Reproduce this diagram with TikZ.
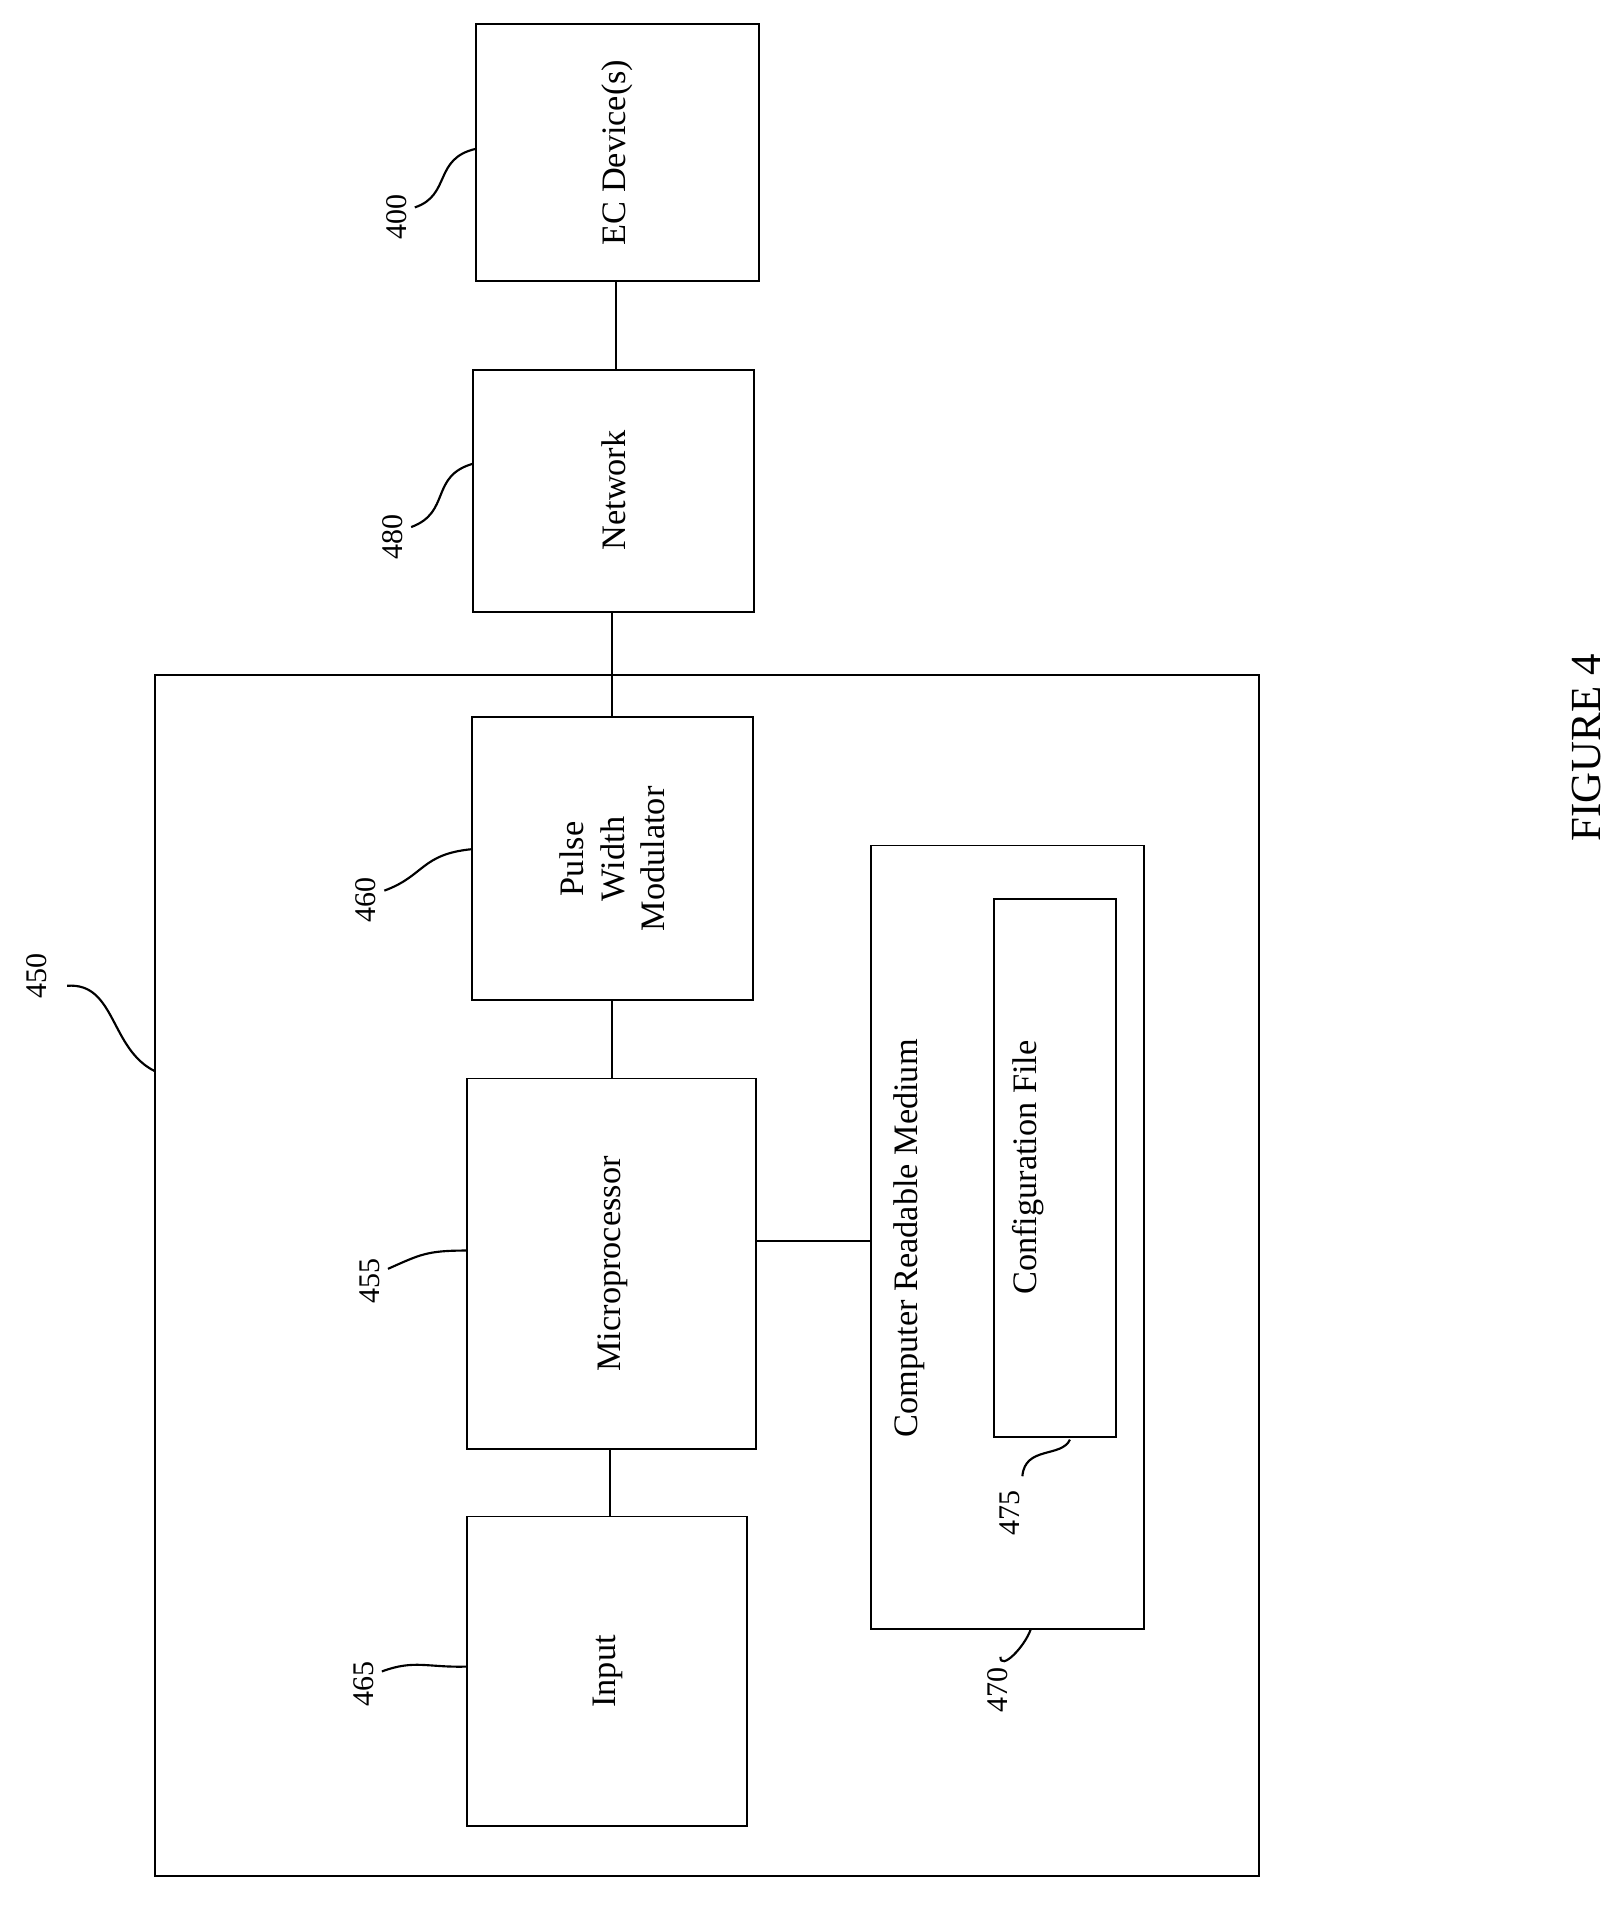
\documentclass[tikz,border=0pt]{standalone}
\usepackage{fontspec}
\setmainfont{Liberation Serif}
\usetikzlibrary{positioning,calc}
\begin{document}
\begin{tikzpicture}[x=0.02cm,y=-0.02cm,line width=0.9pt,
  blk/.style={draw,rectangle,inner sep=0pt,font=\fontsize{16}{19}\selectfont,align=center},
  lbl/.style={font=\fontsize{14}{16}\selectfont,rotate=90},
  lead/.style={line width=1pt}]
\useasboundingbox (0,0) rectangle (1330,1568);

%%%%%%%%%%%%%%%%%%%%%% BOXES
\draw (127,553) rectangle (1032,1538) coordinate (sys);
\draw (390,20) rectangle (622,230);
\node[rotate=90,font=\fontsize{16}{19}\selectfont] (ec) at (506,125) {EC Device(s)};
\draw (388,303) rectangle (618,502);
\node[rotate=90,font=\fontsize{16}{19}\selectfont] (net) at (503,402) {Network};
\draw (387,588) rectangle (617,820);
\node[rotate=90,font=\fontsize{16}{19}\selectfont,align=center] (pwm) at (502,704) {Pulse\\Width\\Modulator};
\draw (383,884) rectangle (620,1188);
\node[rotate=90,font=\fontsize{16}{19}\selectfont] (mp) at (502,1036) {Microprocessor};
\draw (383,1243) rectangle (612,1497);
\node[rotate=90,font=\fontsize{16}{19}\selectfont] (in) at (498,1370) {Input};
\draw (714,693) rectangle (938,1335);
\node[rotate=90,font=\fontsize{16}{19}\selectfont] (crm) at (745,1015) {Computer Readable Medium};
\draw (815,737) rectangle (915,1178);
\node[rotate=90,font=\fontsize{16}{19}\selectfont] (cfg) at (843,957) {Configuration File};

%%%%%%%%%%%%%%%%%%%%%% LINKS
\draw (505,230) -- (505,303);
\draw (502,502) -- (502,588);
\draw (502,820) -- (502,884);
\draw (500,1188) -- (500,1243);
\draw (620,1017) -- (714,1017);

%%%%%%%%%%%%%%%%%%%%%% REFERENCE NUMERALS
\node[lbl] (n400) at (325,178) {400};
\draw[lead] (340,170) .. controls (370,160) and (355,130) .. (390,122);
\node[lbl] (n480) at (322,440) {480};
\draw[lead] (337,432) .. controls (370,420) and (352,390) .. (388,380);
\node[lbl] (n460) at (300,738) {460};
\draw[lead] (315,730) .. controls (348,718) and (345,700) .. (387,696);
\node[lbl] (n455) at (303,1050) {455};
\draw[lead] (318,1040) .. controls (345,1028) and (350,1025) .. (383,1025);
\node[lbl] (n465) at (298,1380) {465};
\draw[lead] (313,1370) .. controls (340,1360) and (350,1367) .. (383,1366);
\node[lbl] (n450) at (30,800) {450};
\draw[lead] (55,808) .. controls (95,805) and (90,860) .. (127,878);
\node[lbl] (n470) at (818,1385) {470};
\draw[lead] (820,1358) .. controls (820,1370) and (840,1350) .. (845,1335);
\node[lbl] (n475) at (828,1240) {475};
\draw[lead] (838,1210) .. controls (840,1185) and (870,1195) .. (877,1180);

\node[rotate=90,font=\fontsize{20}{23}\selectfont] (fig) at (1300,613) {FIGURE 4};
\end{tikzpicture}
\end{document}
